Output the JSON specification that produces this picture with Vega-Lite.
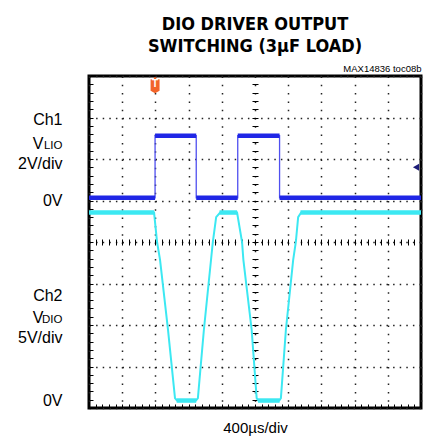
{
  "$schema": "https://vega.github.io/schema/vega-lite/v6.json",
  "width": 332,
  "height": 332,
  "autosize": {"type": "none"},
  "padding": {"left": 89, "top": 76, "right": 27, "bottom": 32},
  "background": "white",
  "title": {
    "text": ["DIO DRIVER OUTPUT", "SWITCHING (3µF LOAD)"],
    "font": "Liberation Sans Narrow, DejaVu Sans Condensed, sans-serif",
    "fontSize": 18,
    "fontWeight": "bold",
    "color": "#000",
    "anchor": "middle",
    "lineHeight": 22,
    "offset": 7
  },
  "datasets": {
    "ch1": [
      {"i": 0, "t": 0, "v": 5.065}, {"i": 1, "t": 1.99, "v": 5.065}, {"i": 2, "t": 1.99, "v": 6.56},
      {"i": 3, "t": 3.23, "v": 6.56}, {"i": 4, "t": 3.23, "v": 5.065}, {"i": 5, "t": 4.48, "v": 5.065},
      {"i": 6, "t": 4.48, "v": 6.56}, {"i": 7, "t": 5.74, "v": 6.56}, {"i": 8, "t": 5.74, "v": 5.065},
      {"i": 9, "t": 10, "v": 5.065}
    ],
    "ch1_flat": [
      {"t0": 0, "t1": 1.99, "v": 5.065}, {"t0": 1.99, "t1": 3.23, "v": 6.56},
      {"t0": 3.23, "t1": 4.48, "v": 5.065}, {"t0": 4.48, "t1": 5.74, "v": 6.56},
      {"t0": 5.74, "t1": 10, "v": 5.065}
    ],
    "ch2": [
      {"i": 0, "t": 0, "v": 4.71}, {"i": 1, "t": 1.96, "v": 4.71}, {"i": 2, "t": 2.05, "v": 4.0},
      {"i": 3, "t": 2.14, "v": 3.57}, {"i": 4, "t": 2.38, "v": 1.88}, {"i": 5, "t": 2.59, "v": 0.24},
      {"i": 6, "t": 2.65, "v": 0.18}, {"i": 7, "t": 3.22, "v": 0.18}, {"i": 8, "t": 3.28, "v": 0.24},
      {"i": 9, "t": 3.46, "v": 1.88}, {"i": 10, "t": 3.73, "v": 4.0}, {"i": 11, "t": 3.83, "v": 4.6},
      {"i": 12, "t": 3.95, "v": 4.71}, {"i": 13, "t": 4.46, "v": 4.71}, {"i": 14, "t": 4.61, "v": 4.0},
      {"i": 15, "t": 4.65, "v": 3.57}, {"i": 16, "t": 4.9, "v": 1.88}, {"i": 17, "t": 5.05, "v": 0.24},
      {"i": 18, "t": 5.1, "v": 0.18}, {"i": 19, "t": 5.73, "v": 0.18}, {"i": 20, "t": 5.78, "v": 0.24},
      {"i": 21, "t": 5.93, "v": 1.88}, {"i": 22, "t": 6.15, "v": 3.57}, {"i": 23, "t": 6.23, "v": 4.0},
      {"i": 24, "t": 6.3, "v": 4.6}, {"i": 25, "t": 6.39, "v": 4.71}, {"i": 26, "t": 10, "v": 4.71}
    ],
    "ch2_flat": [
      {"t0": 0, "t1": 1.96, "v": 4.71}, {"t0": 3.93, "t1": 4.46, "v": 4.71},
      {"t0": 6.37, "t1": 10, "v": 4.71}, {"t0": 2.64, "t1": 3.23, "v": 0.18},
      {"t0": 5.09, "t1": 5.74, "v": 0.18}
    ],
    "markers": [
      {"name": "T", "t": 1.99, "v": 7.78},
      {"name": "ground", "t": 9.85, "v": 5.8}
    ]
  },
  "layer": [
    {
      "data": {"name": "ch1"},
      "mark": {"type": "line", "color": "#5050f0", "strokeWidth": 1.3},
      "encoding": {
        "x": {
          "field": "t", "type": "quantitative",
          "scale": {"domain": [0, 10], "nice": false, "zero": false},
          "axis": {
            "orient": "bottom",
            "values": [0,0.2,0.4,0.6,0.8,1,1.2,1.4,1.6,1.8,2,2.2,2.4,2.6,2.8,3,3.2,3.4,3.6,3.8,4,4.2,4.4,4.6,4.8,5,5.2,5.4,5.6,5.8,6,6.2,6.4,6.6,6.8,7,7.2,7.4,7.6,7.8,8,8.2,8.4,8.6,8.8,9,9.2,9.4,9.6,9.8,10],
            "domain": false,
            "labels": false,
            "ticks": true,
            "tickSize": -4,
            "tickColor": "#000",
            "tickWidth": 1,
            "grid": true,
            "gridColor": "#222",
            "gridWidth": 1.5,
            "gridDash": [1.5, 6.8],
            "gridOpacity": {"condition": {"test": "abs(datum.value - round(datum.value)) < 0.01", "value": 1}, "value": 0},
            "title": "400µs/div",
            "titleFont": "Liberation Sans, Arial, sans-serif",
            "titleFontSize": 15,
            "titleFontWeight": "normal",
            "titleColor": "#000",
            "titlePadding": 12
          }
        },
        "y": {
          "field": "v", "type": "quantitative",
          "scale": {"domain": [0, 8], "nice": false, "zero": false},
          "axis": {
            "orient": "left",
            "values": [0,0.2,0.4,0.6,0.8,1,1.2,1.4,1.6,1.8,2,2.2,2.4,2.6,2.8,3,3.2,3.4,3.6,3.8,4,4.2,4.4,4.6,4.8,5,5.2,5.4,5.6,5.8,6,6.2,6.4,6.6,6.8,7,7.2,7.4,7.6,7.8,8],
            "domain": false,
            "labels": false,
            "ticks": true,
            "tickSize": -4,
            "tickColor": "#000",
            "tickWidth": 1,
            "grid": true,
            "gridColor": "#222",
            "gridWidth": 1.5,
            "gridDash": [1.5, 5.1],
            "gridOpacity": {"condition": {"test": "abs(datum.value - round(datum.value)) < 0.01", "value": 1}, "value": 0},
            "title": null
          }
        },
        "order": {"field": "i", "type": "quantitative"}
      }
    },
    {
      "data": {"name": "ch1_flat"},
      "mark": {"type": "rule", "color": "#1f26e6", "strokeWidth": 4.5},
      "encoding": {
        "x": {
          "field": "t0", "type": "quantitative",
          "axis": {
            "orient": "top",
            "domain": false, "labels": false, "ticks": false, "grid": false,
            "title": "MAX14836 toc08b",
            "titleAnchor": "end",
            "titleFont": "Liberation Sans, Arial, sans-serif",
            "titleFontSize": 9.5,
            "titleFontWeight": "normal",
            "titleColor": "#000",
            "titleBaseline": "alphabetic",
            "titlePadding": 5
          }
        },
        "x2": {"field": "t1"},
        "y": {
          "field": "v", "type": "quantitative",
          "axis": {
            "orient": "left",
            "values": [6.82, 5.78, 4.89, 2.6, 1.57, 0.05],
            "labelExpr": "datum.value > 6.5 ? 'Ch1' : datum.value > 5.5 ? '2V/div' : datum.value > 4 ? '0V' : datum.value > 2.3 ? 'Ch2' : datum.value > 1 ? '5V/div' : '0V'",
            "domain": false, "ticks": false, "tickSize": 0, "grid": false,
            "labelAlign": "right",
            "labelBaseline": "alphabetic",
            "labelPadding": 27,
            "labelFont": "Liberation Sans, Arial, sans-serif",
            "labelFontSize": 16,
            "labelColor": "#000",
            "labelOverlap": false,
            "labelBound": false,
            "labelFlush": false,
            "title": null
          }
        }
      }
    },
    {
      "data": {"name": "ch2"},
      "mark": {"type": "line", "color": "#3ce8f2", "strokeWidth": 2},
      "encoding": {
        "x": {
          "field": "t", "type": "quantitative",
          "axis": {
            "orient": "bottom",
            "offset": -169,
            "values": [0.2,0.4,0.6,0.8,1,1.2,1.4,1.6,1.8,2,2.2,2.4,2.6,2.8,3,3.2,3.4,3.6,3.8,4,4.2,4.4,4.6,4.8,5,5.2,5.4,5.6,5.8,6,6.2,6.4,6.6,6.8,7,7.2,7.4,7.6,7.8,8,8.2,8.4,8.6,8.8,9,9.2,9.4,9.6,9.8],
            "domain": false, "labels": false, "grid": false,
            "ticks": true, "tickSize": 6, "tickColor": "#000", "tickWidth": 1,
            "title": null
          }
        },
        "y": {
          "field": "v", "type": "quantitative",
          "axis": {
            "orient": "left",
            "values": [6.25, 2.05],
            "labelExpr": "'V'",
            "domain": false, "ticks": false, "tickSize": 0, "grid": false,
            "labelAlign": "right",
            "labelBaseline": "alphabetic",
            "labelPadding": 46,
            "labelFont": "Liberation Sans, Arial, sans-serif",
            "labelFontSize": 16,
            "labelColor": "#000",
            "labelOverlap": false,
            "labelBound": false,
            "labelFlush": false,
            "title": null
          }
        },
        "order": {"field": "i", "type": "quantitative"}
      }
    },
    {
      "data": {"name": "ch2_flat"},
      "mark": {"type": "rule", "color": "#3ce8f2", "strokeWidth": 4.5},
      "encoding": {
        "x": {"field": "t0", "type": "quantitative", "axis": null},
        "x2": {"field": "t1"},
        "y": {
          "field": "v", "type": "quantitative",
          "axis": {
            "orient": "left",
            "values": [6.25, 2.05],
            "labelExpr": "datum.value > 4 ? 'LIO' : 'DIO'",
            "domain": false, "ticks": false, "tickSize": 0, "grid": false,
            "labelAlign": "right",
            "labelBaseline": "alphabetic",
            "labelPadding": 27,
            "labelFont": "Liberation Sans, Arial, sans-serif",
            "labelFontSize": 11.5,
            "labelColor": "#000",
            "labelOverlap": false,
            "labelBound": false,
            "labelFlush": false,
            "title": null
          }
        }
      }
    },
    {
      "data": {"name": "markers"},
      "transform": [{"filter": "datum.name === 'T'"}],
      "mark": {
        "type": "point", "filled": true, "opacity": 1, "color": "#f2642a", "size": 256,
        "shape": "M-0.56,-0.72 L0.56,-0.72 L0.56,0.7 L0,1 L-0.56,0.7 Z M-0.15,-1 L0.15,-1 L0.15,-0.72 L-0.15,-0.72 Z"
      },
      "encoding": {
        "x": {"field": "t", "type": "quantitative", "axis": null},
        "y": {
          "field": "v", "type": "quantitative",
          "axis": {
            "orient": "left",
            "offset": -169,
            "values": [0.2,0.4,0.6,0.8,1,1.2,1.4,1.6,1.8,2,2.2,2.4,2.6,2.8,3,3.2,3.4,3.6,3.8,4,4.2,4.4,4.6,4.8,5,5.2,5.4,5.6,5.8,6,6.2,6.4,6.6,6.8,7,7.2,7.4,7.6,7.8],
            "domain": false, "labels": false, "grid": false,
            "ticks": true, "tickSize": 6, "tickColor": "#000", "tickWidth": 1,
            "title": null
          }
        }
      }
    },
    {
      "data": {"name": "markers"},
      "transform": [{"filter": "datum.name === 'ground'"}],
      "mark": {"type": "point", "filled": true, "opacity": 1, "color": "#1c1c78", "size": 50, "shape": "triangle-left"},
      "encoding": {
        "x": {"field": "t", "type": "quantitative", "axis": null},
        "y": {"field": "v", "type": "quantitative", "axis": null}
      }
    },
    {
      "data": {"name": "markers"},
      "transform": [{"filter": "datum.name === 'T'"}],
      "mark": {"type": "text", "color": "white", "fontSize": 10, "fontWeight": "bold", "font": "Liberation Sans, Arial, sans-serif", "baseline": "middle", "align": "center", "dy": -1},
      "encoding": {
        "x": {"field": "t", "type": "quantitative", "axis": null},
        "y": {"field": "v", "type": "quantitative", "axis": null},
        "text": {"field": "name"}
      }
    }
  ],
  "resolve": {"axis": {"x": "independent", "y": "independent"}},
  "config": {
    "view": {"stroke": "#000", "strokeWidth": 3}
  }
}
